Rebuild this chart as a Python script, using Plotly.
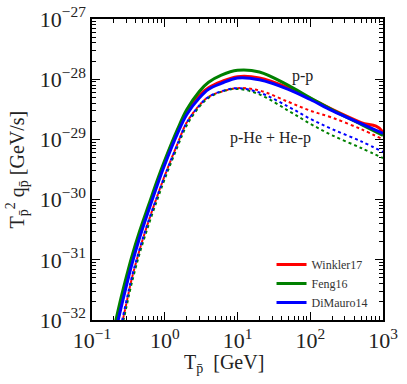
import plotly.graph_objects as go

# kinetic energy grid [GeV]
T = [0.2, 0.25, 0.3, 0.35, 0.45, 0.6, 0.8, 1.0, 1.5, 2, 3, 4, 6, 10, 20, 50, 100, 200, 500, 1000]

# p-p source term, T^2 q [GeV/s]
pp_winkler = [5.25e-33, 1.74e-32, 4.27e-32, 8.9e-32, 2.5e-31, 7.2e-31, 2.0e-30, 4.2e-30, 1.38e-29, 2.8e-29,
              5.4e-29, 7.2e-29, 9.1e-29, 1.10e-28, 1.05e-28, 7.2e-29, 4.8e-29, 3.16e-29, 1.9e-29, 1.35e-29]
pp_feng = [7.1e-33, 2.3e-32, 5.5e-32, 1.1e-31, 2.95e-31, 8.1e-31, 2.2e-30, 4.5e-30, 1.48e-29, 3.1e-29,
           6.3e-29, 8.9e-29, 1.17e-28, 1.41e-28, 1.32e-28, 7.9e-29, 4.9e-29, 3.1e-29, 1.78e-29, 1.17e-29]
pp_dimauro = [4.8e-33, 1.58e-32, 3.9e-32, 8.1e-32, 2.3e-31, 6.6e-31, 1.82e-30, 3.8e-30, 1.26e-29, 2.57e-29,
              4.9e-29, 6.8e-29, 8.5e-29, 1.05e-28, 9.8e-29, 6.8e-29, 4.6e-29, 3.0e-29, 1.82e-29, 1.26e-29]

# p-He + He-p source term
phe_winkler = [1.78e-33, 7.1e-33, 2.0e-32, 4.7e-32, 1.45e-31, 4.4e-31, 1.2e-30, 2.5e-30, 8.5e-30, 1.9e-29,
               3.7e-29, 5.1e-29, 6.2e-29, 7.1e-29, 6.5e-29, 4.2e-29, 3.0e-29, 2.3e-29, 1.48e-29, 1.0e-29]
phe_feng = [1.6e-33, 6.3e-33, 1.74e-32, 4.0e-32, 1.26e-31, 3.8e-31, 1.05e-30, 2.2e-30, 7.6e-30, 1.7e-29,
            3.5e-29, 4.9e-29, 6.2e-29, 6.9e-29, 5.6e-29, 3.0e-29, 1.82e-29, 1.17e-29, 7.2e-30, 4.9e-30]
phe_dimauro = [2.0e-33, 7.9e-33, 2.2e-32, 5.0e-32, 1.5e-31, 4.5e-31, 1.2e-30, 2.5e-30, 8.5e-30, 1.9e-29,
               3.7e-29, 5.1e-29, 6.3e-29, 7.1e-29, 6.0e-29, 3.5e-29, 2.2e-29, 1.48e-29, 9.3e-30, 6.2e-30]

# Winkler17 p-p ends just below 1 TeV, where it drops to zero
winkler_T_end = 970
winkler_last = 1.37e-29
winkler_end = 1e-34

names = ["Winkler17", "Feng16", "DiMauro14"]
colors = ["#ff0000", "#008000", "#0000ff"]
pp_x = [T[:-1] + [winkler_T_end, winkler_T_end], T, T]
pp = [pp_winkler[:-1] + [winkler_last, winkler_end], pp_feng, pp_dimauro]
phe = [phe_winkler, phe_feng, phe_dimauro]

xt = [0.1, 1, 10, 100, 1000]
xt_text = ["10<sup>−1</sup>", "10<sup>0</sup>", "10<sup>1</sup>", "10<sup>2</sup>", "10<sup>3</sup>"]
yt = [1e-32, 1e-31, 1e-30, 1e-29, 1e-28, 1e-27]
yt_text = ["10<sup>−32</sup>", "10<sup>−31</sup>", "10<sup>−30</sup>", "10<sup>−29</sup>",
           "10<sup>−28</sup>", "10<sup>−27</sup>"]

font = "Liberation Serif, DejaVu Serif, serif"

fig = go.Figure()
for name, c, y in zip(names, colors, phe):
    fig.add_trace(go.Scatter(x=T, y=y, mode="lines", line=dict(color=c, width=2, dash="dot", shape="spline"),
                             showlegend=False))
for name, c, x, y in zip(names, colors, pp_x, pp):
    fig.add_trace(go.Scatter(x=x, y=y, mode="lines", name=name,
                             line=dict(color=c, width=3, shape="spline")))

axis = dict(type="log", showline=True, linecolor="black", linewidth=1.5, mirror="allticks",
            ticks="inside", ticklen=8, tickwidth=1, tickcolor="black", showgrid=False, zeroline=False,
            automargin=False, ticklabeloverflow="allow", layer="below traces",
            minor=dict(ticks="inside", ticklen=4, tickcolor="black", dtick="D1", showgrid=False),
            tickfont=dict(family=font, size=22, color="#222"))

fig.update_xaxes(axis, range=[-1, 3], tickvals=xt, ticktext=xt_text)
fig.update_yaxes(axis, range=[-32, -27], tickvals=yt, ticktext=yt_text)

# axis titles as annotations so they can be placed like the original
fig.add_annotation(x=0.454, y=-0.143, xref="paper", yref="paper", xanchor="center", yanchor="middle",
                   text="T<sub>p̄</sub>  [GeV]", showarrow=False,
                   font=dict(family=font, size=20, color="#222"))
fig.add_annotation(x=-0.258, y=0.5, xref="paper", yref="paper", xanchor="center", yanchor="middle",
                   textangle=-90, text="T<sub>p̄</sub><sup>2</sup> q<sub>p̄</sub> [GeV/s]", showarrow=False,
                   font=dict(family=font, size=20, color="#222"))

fig.add_annotation(x=1.89, y=-27.95, xref="x", yref="y", text="p-p", showarrow=False,
                   font=dict(family=font, size=16, color="#222"))
fig.add_annotation(x=1.45, y=-28.97, xref="x", yref="y", text="p-He + He-p", showarrow=False,
                   font=dict(family=font, size=16, color="#222"))

fig.update_layout(width=407, height=384, margin=dict(l=92, r=24, t=19, b=64),
                  plot_bgcolor="white", paper_bgcolor="white",
                  legend=dict(x=0.964, y=0.01, xanchor="right", yanchor="bottom", bgcolor="rgba(0,0,0,0)",
                              font=dict(family=font, size=12, color="#333"), tracegroupgap=0,
                              itemwidth=30))

# drop the default 8px body margin so the figure fills the window
fig.write_html("out.html", config={"displayModeBar": False},
               post_script="document.body.style.margin='0px';")
